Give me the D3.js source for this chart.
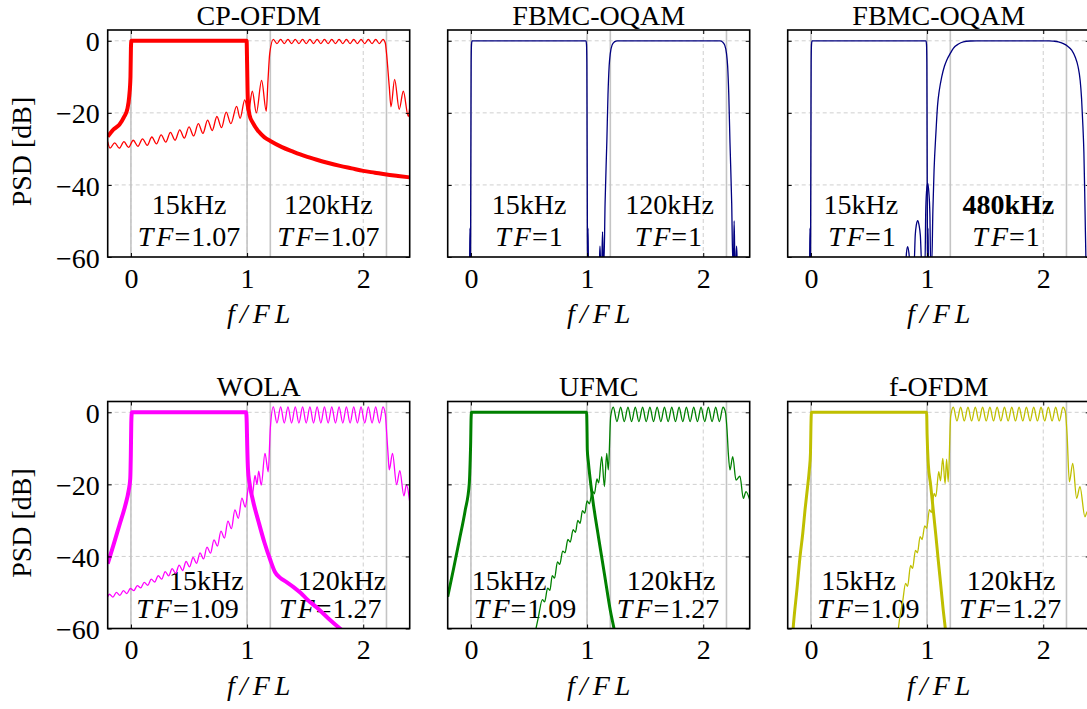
<!DOCTYPE html>
<html><head><meta charset="utf-8">
<script src="https://cdn.jsdelivr.net/npm/d3@7"></script>
<style>
html,body{margin:0;padding:0;background:#fff;}
svg{display:block;}
text{font-family:"Liberation Serif","Times New Roman",serif;}
</style></head><body>
<svg id="chart" width="1087" height="709"></svg>
<script>
// ---------------- data ----------------
const titles = ["CP-OFDM","FBMC-OQAM","FBMC-OQAM","WOLA","UFMC","f-OFDM"];
const xTicks = [0,1,2];
const yTicks = [0,-20,-40,-60];
const bandEdges = [0,1,1.2,2.2];
const lowLabels = ["15kHz","15kHz","15kHz","15kHz","15kHz","15kHz"];
const highLabels = ["120kHz","120kHz","480kHz","120kHz","120kHz","120kHz"];
const lowTF = ["1.07","1","1","1.09","1.09","1.09"];
const highTF = ["1.07","1","1","1.27","1.27","1.27"];

// CP-OFDM
const cpNarrow = [[-0.2,-26.6],[-0.15,-24.6],[-0.1,-23.3],[-0.06,-21.2],[-0.03,-18.8],[-0.015,-15.5],[-0.004,-10],[0,-2],[0.004,0],[0.5,0],[0.996,0],[1.0,-6],[1.006,-16],[1.02,-20.5],[1.05,-22.8],[1.1,-25.2],[1.15,-26.8],[1.2,-27.8],[1.3,-29.5],[1.4,-30.8],[1.5,-32.0],[1.6,-33.0],[1.7,-33.9],[1.8,-34.7],[1.9,-35.4],[2.0,-36.1],[2.1,-36.6],[2.2,-37.1],[2.3,-37.5],[2.4,-37.9]];
const cpWide = [[-0.2,-28.0],[-0.18,-29.8],[-0.14,-28.3],[-0.10,-29.8],[-0.06,-28.0],[-0.02,-29.6],[0.02,-27.6],[0.06,-29.3],[0.10,-27.2],[0.14,-29.0],[0.18,-26.7],[0.22,-28.6],[0.26,-26.1],[0.30,-28.1],[0.34,-25.4],[0.38,-27.6],[0.42,-24.7],[0.46,-27.0],[0.50,-23.9],[0.54,-26.4],[0.58,-23.0],[0.62,-25.7],[0.66,-22.0],[0.70,-24.9],[0.74,-21.0],[0.78,-24.1],[0.82,-19.8],[0.86,-23.0],[0.91,-18.2],[0.94,-21.5],[0.98,-16.4],[1.01,-20.0],[1.045,-14.0],[1.08,-20.0],[1.125,-11.0],[1.165,-19.5],[1.18,-11.0],[1.195,-3.5],
[1.226,0.4],[1.257,-0.8],[1.289,0.4],[1.320,-0.8],[1.352,0.4],[1.383,-0.8],[1.415,0.4],[1.446,-0.8],[1.478,0.4],[1.509,-0.8],[1.541,0.4],[1.572,-0.8],[1.603,0.4],[1.635,-0.8],[1.666,0.4],[1.698,-0.8],[1.729,0.4],[1.761,-0.8],[1.792,0.4],[1.824,-0.8],[1.855,0.4],[1.887,-0.8],[1.918,0.4],[1.950,-0.8],[1.981,0.4],[2.013,-0.8],[2.044,0.4],[2.076,-0.8],[2.107,0.4],[2.139,-0.8],[2.170,0.4],
[2.19,-0.6],[2.2,-3.3],[2.224,-12.7],[2.239,-18.3],[2.27,-10.7],[2.31,-19.0],[2.345,-14.0],[2.388,-21.0],[2.4,-18.5]];

// FBMC-OQAM
const fbNarrow = [[-0.03,-62],[-0.012,-62],[-0.008,-52],[-0.004,-62],[-0.002,-45],[0,-25],[0.002,-6],[0.005,-1],[0.01,0],[0.5,0],[0.99,0],[0.995,-1],[0.998,-6],[1.0,-25],[1.002,-45],[1.004,-62],[1.008,-52],[1.012,-62],[1.03,-62]];
const fbWide = [[1.09,-62],[1.105,-62],[1.111,-57],[1.117,-62],[1.126,-62],[1.133,-53],[1.14,-62],[1.145,-62],[1.155,-45],[1.17,-28],[1.18,-15],[1.19,-7],[1.2,-3.5],[1.215,-1.2],[1.235,-0.3],[1.26,0],[1.7,0],[2.145,0],[2.165,-0.3],[2.185,-1.2],[2.2,-3.5],[2.21,-7],[2.22,-15],[2.23,-28],[2.245,-45],[2.255,-62],[2.26,-62],[2.266,-50],[2.273,-62],[2.28,-62],[2.287,-57],[2.294,-62],[2.32,-62]];
const fb480 = [[0.79,-62],[0.816,-62],[0.822,-59],[0.833,-57.1],[0.844,-59],[0.853,-62],[0.888,-62],[0.898,-54],[0.908,-51],[0.919,-49.9],[0.93,-51],[0.942,-54],[0.954,-62],[0.982,-62],[0.988,-48],[0.995,-42],[1.005,-39.5],[1.015,-42],[1.024,-48],[1.031,-62],[1.04,-62],[1.05,-47],[1.06,-36],[1.077,-25],[1.09,-18],[1.105,-13.8],[1.126,-10],[1.15,-7],[1.17,-5.3],[1.2,-3.5],[1.226,-2.1],[1.27,-0.9],[1.312,-0.3],[1.37,-0.05],[1.43,0],[1.75,0],[2.05,0],[2.087,-0.1],[2.13,-0.3],[2.173,-0.8],[2.21,-1.5],[2.245,-2.6],[2.275,-4.5],[2.3,-7.2],[2.318,-11],[2.33,-16],[2.342,-24],[2.35,-31],[2.357,-42],[2.363,-53],[2.37,-65]];

// WOLA
const wolaNarrow = [[-0.2,-42],[-0.15,-36.8],[-0.1,-31.4],[-0.05,-26],[-0.02,-21.8],[-0.006,-18.5],[-0.001,-12],[0.003,-3],[0.008,0],[0.5,0],[0.992,0],[0.997,-3],[1.001,-9],[1.008,-16],[1.02,-19.5],[1.05,-24.4],[1.1,-30.5],[1.15,-36.2],[1.2,-41],[1.24,-44.3],[1.28,-45.8],[1.34,-47.1],[1.4,-48.5],[1.46,-50.1],[1.52,-52],[1.6,-54.2],[1.7,-57.2],[1.8,-60],[1.9,-62.5]];
const wolaWide = [[-0.2,-51.2],[-0.185,-50.5],[-0.155,-51.3],[-0.125,-50.0],[-0.095,-50.8],[-0.065,-49.5],[-0.035,-50.3],[-0.005,-48.9],[0.025,-49.5],[0.055,-48.1],[0.085,-48.7],[0.115,-47.2],[0.145,-48.0],[0.175,-46.3],[0.205,-47.1],[0.235,-45.3],[0.265,-46.3],[0.295,-44.2],[0.325,-45.4],[0.355,-43.4],[0.385,-44.7],[0.415,-42.4],[0.445,-43.9],[0.475,-41.4],[0.505,-42.9],[0.535,-40.3],[0.565,-41.9],[0.595,-39.0],[0.625,-40.7],[0.655,-37.4],[0.685,-39.1],[0.715,-35.4],[0.745,-37.1],[0.775,-33.0],[0.805,-34.9],[0.835,-30.2],[0.865,-32.3],[0.895,-27.1],[0.925,-29.4],[0.955,-23.8],[0.985,-26.3],[1.015,-20.3],[1.045,-23.0],[1.068,-17.5],[1.085,-20.0],[1.1,-16.3],[1.122,-20.2],[1.154,-11.4],[1.182,-16.5],[1.2,-4.5],
[1.226,1.5],[1.257,-3.0],[1.289,1.5],[1.320,-3.0],[1.352,1.5],[1.383,-3.0],[1.415,1.5],[1.446,-3.0],[1.478,1.5],[1.509,-3.0],[1.541,1.5],[1.572,-3.0],[1.603,1.5],[1.635,-3.0],[1.666,1.5],[1.698,-3.0],[1.729,1.5],[1.761,-3.0],[1.792,1.5],[1.824,-3.0],[1.855,1.5],[1.887,-3.0],[1.918,1.5],[1.950,-3.0],[1.981,1.5],[2.013,-3.0],[2.044,1.5],[2.076,-3.0],[2.107,1.5],[2.139,-3.0],[2.170,1.5],
[2.19,-0.5],[2.2,-4.9],[2.215,-12.3],[2.224,-16.0],[2.252,-11.4],[2.287,-20.1],[2.315,-16.2],[2.35,-23.2],[2.372,-20.1],[2.4,-24.8]];

// UFMC
const ufNarrow = [[-0.2,-51.2],[-0.15,-43.5],[-0.1,-35.5],[-0.05,-27.3],[-0.014,-19.7],[-0.007,-14],[-0.002,-8],[0.001,-2],[0.005,0],[0.5,0],[0.996,0],[0.999,-4],[1.002,-10.5],[1.01,-13.5],[1.05,-24.5],[1.1,-35],[1.15,-45],[1.2,-55],[1.235,-60.5],[1.25,-63]];
const ufWide = [[0.54,-63],[0.58,-57],[0.615,-52.0],[0.635,-52.6],[0.66,-48.8],[0.68,-49.4],[0.70,-45.3],[0.72,-46.0],[0.745,-41.5],[0.765,-42.2],[0.79,-38.5],[0.81,-39.0],[0.835,-35.3],[0.855,-36.0],[0.88,-32.6],[0.9,-33.3],[0.92,-30.0],[0.94,-30.8],[0.96,-27.3],[0.98,-28.0],[1.0,-24.6],[1.02,-25.4],[1.045,-21.8],[1.063,-22.6],[1.085,-18.5],[1.1,-19.6],[1.126,-12.3],[1.149,-20.6],[1.169,-11.4],[1.183,-16.0],[1.203,-1.2],
[1.226,1.4],[1.257,-2.6],[1.289,1.4],[1.320,-2.6],[1.352,1.4],[1.383,-2.6],[1.415,1.4],[1.446,-2.6],[1.478,1.4],[1.509,-2.6],[1.541,1.4],[1.572,-2.6],[1.603,1.4],[1.635,-2.6],[1.666,1.4],[1.698,-2.6],[1.729,1.4],[1.761,-2.6],[1.792,1.4],[1.824,-2.6],[1.855,1.4],[1.887,-2.6],[1.918,1.4],[1.950,-2.6],[1.981,1.4],[2.013,-2.6],[2.044,1.4],[2.076,-2.6],[2.107,1.4],[2.139,-2.6],[2.170,1.4],
[2.19,0.2],[2.205,-5],[2.216,-11.4],[2.23,-16],[2.254,-12.3],[2.282,-18.8],[2.316,-17.7],[2.345,-23.9],[2.368,-22],[2.4,-24.3]];

// f-OFDM
const foNarrow = [[-0.16,-63],[-0.152,-59.5],[-0.12,-49],[-0.094,-40.1],[-0.07,-33.5],[-0.051,-27.1],[-0.03,-21],[-0.014,-16],[-0.004,-11.4],[0,-4],[0.004,0],[0.5,0],[0.996,0],[1.0,-6],[1.01,-14.2],[1.03,-20],[1.053,-27.1],[1.075,-34],[1.096,-41],[1.12,-48.7],[1.139,-54.9],[1.157,-60],[1.17,-64]];
const foWide = [[0.745,-63],[0.753,-60],[0.79,-52.5],[0.815,-47.5],[0.832,-48.3],[0.858,-42.5],[0.875,-43.3],[0.9,-38.3],[0.917,-39.0],[0.94,-34.5],[0.957,-35.3],[0.98,-31.5],[0.997,-32.2],[1.02,-27],[1.037,-27.8],[1.06,-22.5],[1.075,-23.4],[1.1,-16.5],[1.115,-19],[1.135,-12.8],[1.155,-19.8],[1.168,-13],[1.182,-19.3],[1.203,-1.2],
[1.226,1.4],[1.257,-2.4],[1.289,1.4],[1.320,-2.4],[1.352,1.4],[1.383,-2.4],[1.415,1.4],[1.446,-2.4],[1.478,1.4],[1.509,-2.4],[1.541,1.4],[1.572,-2.4],[1.603,1.4],[1.635,-2.4],[1.666,1.4],[1.698,-2.4],[1.729,1.4],[1.761,-2.4],[1.792,1.4],[1.824,-2.4],[1.855,1.4],[1.887,-2.4],[1.918,1.4],[1.950,-2.4],[1.981,1.4],[2.013,-2.4],[2.044,1.4],[2.076,-2.4],[2.107,1.4],[2.139,-2.4],[2.170,1.4],
[2.19,0.2],[2.205,-6],[2.225,-19.3],[2.254,-14.2],[2.288,-23.9],[2.316,-20.6],[2.359,-29],[2.38,-27.5],[2.4,-29]];

// ---------------- layout / style ----------------
const pw = 302, ph = 227;
const colX = [107.7, 447.7, 787.7];
const rowY = [30, 401.5];
const annY = [[-48.15,-56.86],[-49.3,-57.17]];
const FS = 28;

const panels = [
 {row:0,col:0,color:"#ff0000",narrow:cpNarrow,wide:cpWide,nw:4,ww:1.3,lx:0.5,ltx:0.5,hx:1.70,htx:1.70},
 {row:0,col:1,color:"#000080",narrow:fbNarrow,wide:fbWide,nw:1.3,ww:1.3,lx:0.5,ltx:0.5,hx:1.71,htx:1.70},
 {row:0,col:2,color:"#000080",narrow:fbNarrow,wide:fb480,nw:1.3,ww:1.3,lx:0.43,ltx:0.44,hx:1.70,htx:1.68,boldHigh:true},
 {row:1,col:0,color:"#ff00ff",narrow:wolaNarrow,wide:wolaWide,nw:4,ww:1.3,lx:0.649,ltx:0.487,hx:1.817,htx:1.716},
 {row:1,col:1,color:"#008000",narrow:ufNarrow,wide:ufWide,nw:3,ww:1.3,lx:0.328,ltx:0.466,hx:1.723,htx:1.697},
 {row:1,col:2,color:"#bfbf00",narrow:foNarrow,wide:foWide,nw:3,ww:1.3,lx:0.41,ltx:0.494,hx:1.723,htx:1.715}
];

const svg = d3.select("#chart");
const x = d3.scaleLinear().domain([-0.2,2.4]).range([0,pw]);
const y = d3.scaleLinear().domain([-60,3]).range([ph,0]);
const line = d3.line().x(d=>x(d[0])).y(d=>y(d[1])).curve(d3.curveMonotoneX);

function tfText(g, cx, cy, val){
  const t = g.append("text").attr("x",x(cx)).attr("y",y(cy))
    .attr("text-anchor","middle").attr("font-size",FS).attr("fill","#000");
  t.append("tspan").attr("font-style","italic").text("T");
  t.append("tspan").attr("font-style","italic").attr("dx",3).text("F");
  t.append("tspan").attr("dx",1).text("=");
  t.append("tspan").attr("dx",1).text(val);
}

panels.forEach((p,i)=>{
  const g = svg.append("g").attr("transform",`translate(${colX[p.col]},${rowY[p.row]})`);
  const cid = "clip"+i;
  g.append("clipPath").attr("id",cid).append("rect").attr("width",pw).attr("height",ph);

  // dashed grid
  g.selectAll(".gx").data(xTicks).join("line")
    .attr("x1",d=>x(d)).attr("x2",d=>x(d)).attr("y1",0).attr("y2",ph)
    .attr("stroke","#cfcfcf").attr("stroke-width",1).attr("stroke-dasharray","4,3");
  g.selectAll(".gy").data(yTicks.filter(v=>v>-60)).join("line")
    .attr("x1",0).attr("x2",pw).attr("y1",d=>y(d)).attr("y2",d=>y(d))
    .attr("stroke","#cfcfcf").attr("stroke-width",1).attr("stroke-dasharray","4,3");
  // band edges
  g.selectAll(".be").data(bandEdges).join("line")
    .attr("x1",d=>x(d)).attr("x2",d=>x(d)).attr("y1",0).attr("y2",ph)
    .attr("stroke","#c4c4c4").attr("stroke-width",1.6);

  // annotations
  const ay = annY[p.row];
  g.append("text").attr("x",x(p.lx)).attr("y",y(ay[0])).attr("text-anchor","middle")
    .attr("font-size",FS).text(lowLabels[i]);
  tfText(g,p.ltx,ay[1],lowTF[i]);
  g.append("text").attr("x",x(p.hx)).attr("y",y(ay[0])).attr("text-anchor","middle")
    .attr("font-size",FS).attr("font-weight",p.boldHigh?"bold":"normal").text(highLabels[i]);
  tfText(g,p.htx,ay[1],highTF[i]);

  // curves
  const cg = g.append("g").attr("clip-path",`url(#${cid})`);
  cg.append("path").datum(p.narrow).attr("d",line).attr("fill","none")
    .attr("stroke",p.color).attr("stroke-width",p.nw).attr("stroke-linejoin","round");
  cg.append("path").datum(p.wide).attr("d",line).attr("fill","none")
    .attr("stroke",p.color).attr("stroke-width",p.ww).attr("stroke-linejoin","round");

  // axes (inward ticks)
  g.append("g").attr("transform",`translate(0,${ph})`)
    .call(d3.axisBottom(x).tickValues(xTicks).tickSize(-4).tickPadding(11).tickFormat(d3.format("d")));
  const ay2 = g.append("g")
    .call(d3.axisLeft(y).tickValues(yTicks).tickSize(-4).tickPadding(8)
      .tickFormat(p.col===0 ? d3.format("d") : ()=>""));
  g.append("g").call(d3.axisTop(x).tickValues(xTicks).tickSize(-4).tickFormat(()=>""));
  g.append("g").attr("transform",`translate(${pw},0)`)
    .call(d3.axisRight(y).tickValues(yTicks).tickSize(-4).tickFormat(()=>""));
  g.selectAll(".domain").remove();
  g.selectAll(".tick line").attr("stroke","#000").attr("stroke-width",1);
  g.selectAll(".tick text").attr("font-size",FS).attr("font-family",'"Liberation Serif","Times New Roman",serif').attr("fill","#000");
  ay2.selectAll(".tick text").attr("dy","0.36em");

  // frame
  g.append("rect").attr("width",pw).attr("height",ph).attr("fill","none")
    .attr("stroke","#000").attr("stroke-width",1.6);

  // title
  g.append("text").attr("x",pw/2).attr("y",-5.5).attr("text-anchor","middle")
    .attr("font-size",FS).text(titles[i]);

  // x label
  g.append("text").attr("x",pw/2+2.5).attr("y",ph+66).attr("text-anchor","middle")
    .attr("font-size",FS).attr("font-style","italic").attr("letter-spacing","5px")
    .text("f/FL");

  // y label
  if(p.col===0){
    g.append("text").attr("transform",`translate(${30.5-colX[0]},${ph/2+8}) rotate(-90)`)
      .attr("text-anchor","middle").attr("font-size",FS).text("PSD [dB]");
  }
});
</script>
</body></html>
